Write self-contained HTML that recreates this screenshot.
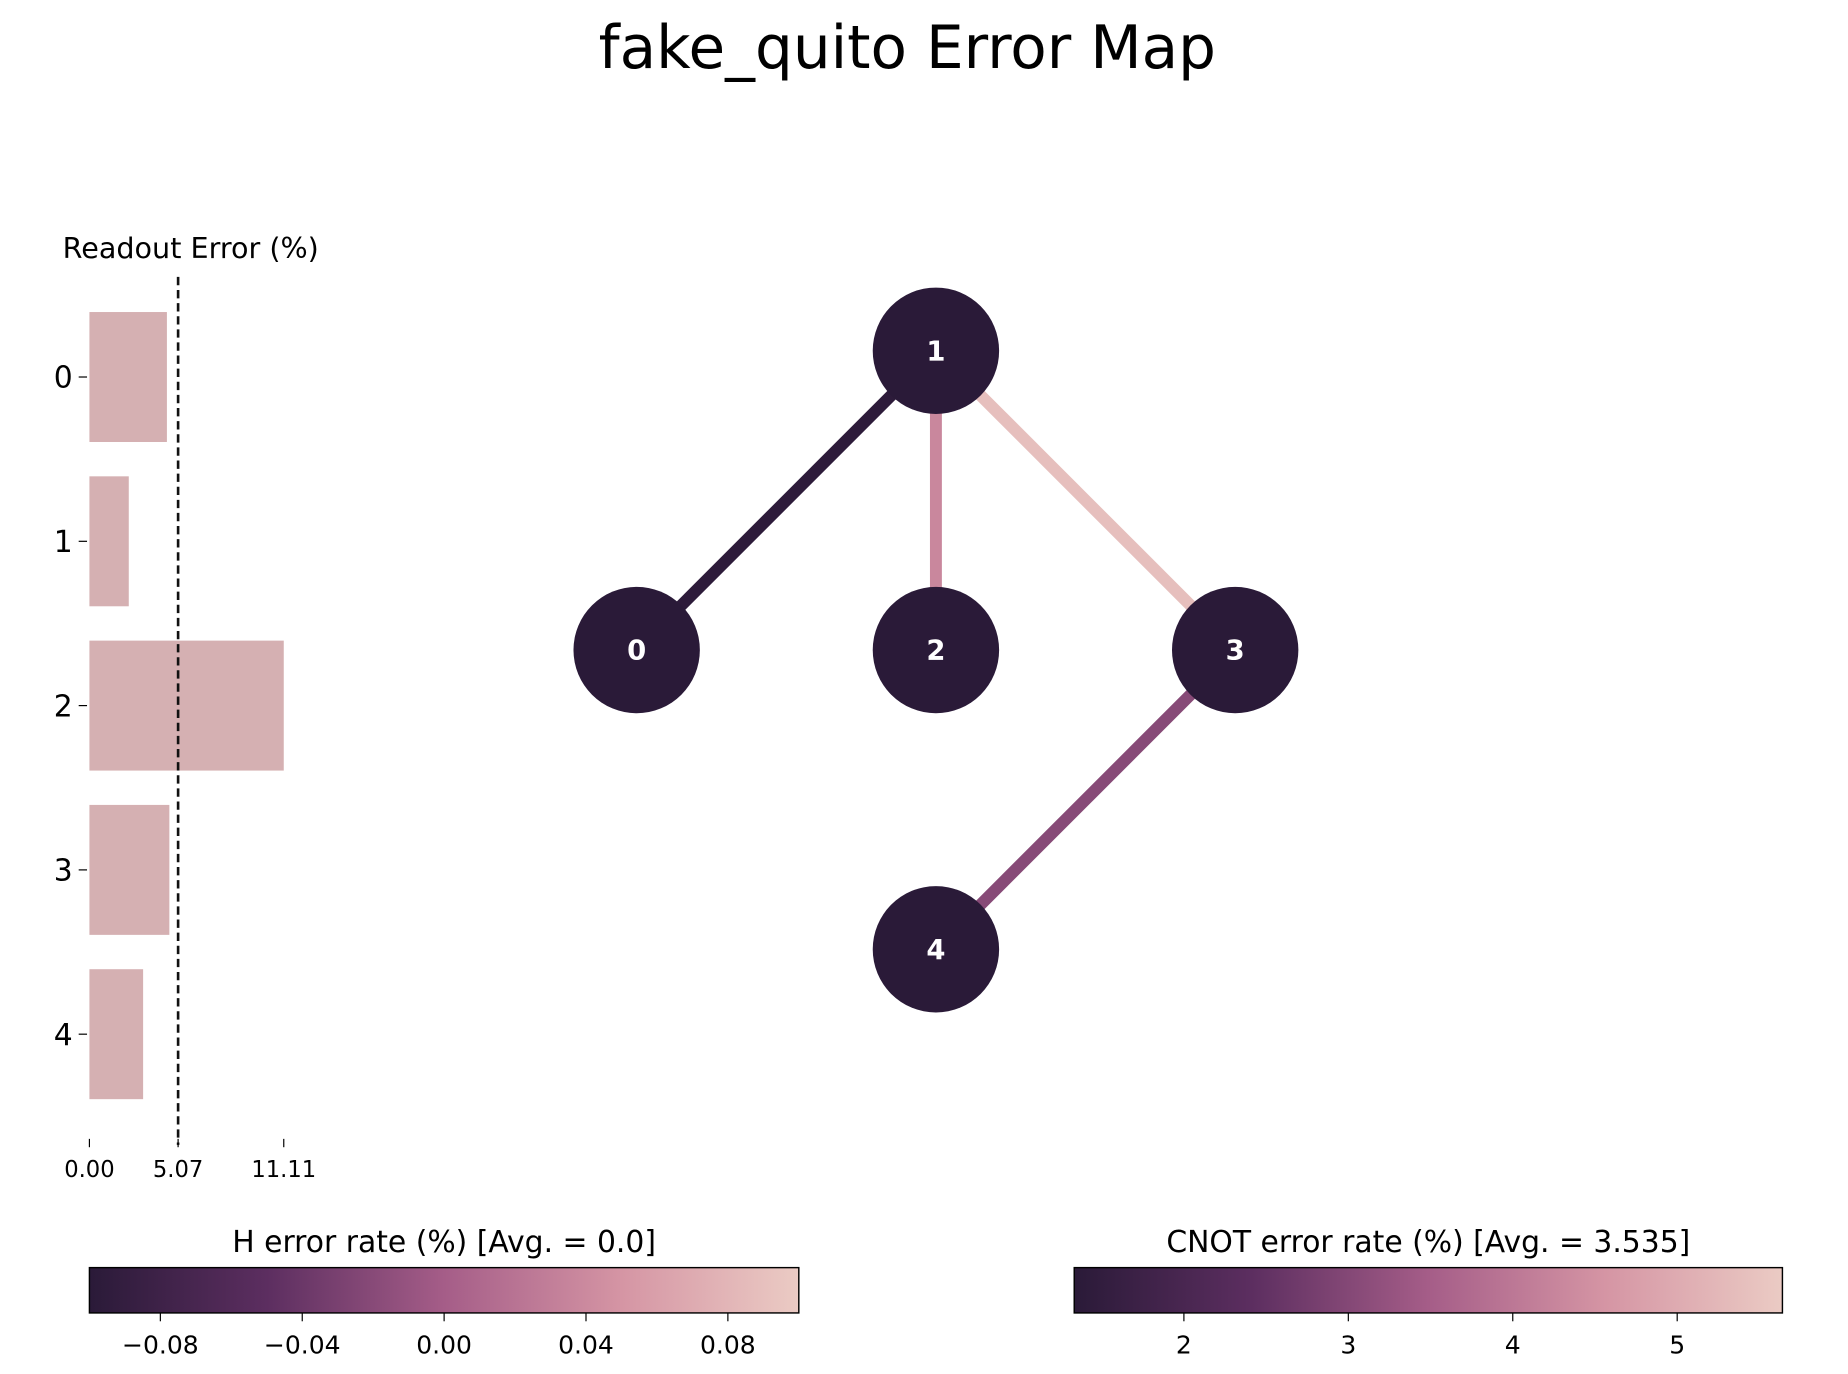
<!DOCTYPE html>
<html><head><meta charset="utf-8">
<style>
html,body{margin:0;padding:0;background:#fff;}
svg{display:block;font-family:"DejaVu Sans","Liberation Sans",sans-serif;}
</style></head>
<body>
<svg id="fig" width="1848" height="1374" viewBox="0 0 1550 1152" xmlns="http://www.w3.org/2000/svg">
<defs>
<linearGradient id="cmap" x1="0" x2="1" y1="0" y2="0">
<stop offset="0" stop-color="#2a1a38"/>
<stop offset="0.25" stop-color="#5c2e60"/>
<stop offset="0.5" stop-color="#a55d88"/>
<stop offset="0.75" stop-color="#d595a4"/>
<stop offset="1" stop-color="#ebcbc4"/>
</linearGradient>
</defs>
<text x="761" y="57" font-size="50" text-anchor="middle" fill="#000">fake_quito Error Map</text>
<g id="readout"></g>
<g id="graph"></g>
<g id="hbar"></g>
<g id="cbar"></g>
</svg>
<script>
const qubits = ["0","1","2","3","4"];
const readoutErrors = [4.43, 2.25, 11.11, 4.57, 3.07];
const readoutTickLabels = ["0.00","5.07","11.11"];
const readoutTickValues = [0, 5.07, 11.11];
const readoutMean = 5.07;
const edgesFrom = [0, 1, 1, 3];
const edgesTo = [1, 2, 3, 4];
const cnotErrors = [1.40, 4.30, 5.40, 3.04];
const hTickValues = [-0.08, -0.04, 0.0, 0.04, 0.08];
const hTickLabels = ["\u22120.08","\u22120.04","0.00","0.04","0.08"];
const cnotTickValues = [2, 3, 4, 5];
const cnotTickLabels = ["2","3","4","5"];
const nodeCol = [0, 1, 1, 2, 1];
const nodeRow = [1, 0, 1, 1, 2];

const NS = "http://www.w3.org/2000/svg";
function mk(parent, tag, attrs, text){
  const e = document.createElementNS(NS, tag);
  for (const k in attrs) e.setAttribute(k, attrs[k]);
  if (text !== undefined) e.textContent = text;
  parent.appendChild(e); return e;
}
const stops = [[0,[42,26,56]],[0.25,[92,46,96]],[0.5,[165,93,136]],[0.75,[213,149,164]],[1,[235,203,196]]];
function cmap(t){
  t = Math.max(0, Math.min(1, t));
  for (let i=1;i<stops.length;i++){
    if (t <= stops[i][0]){
      const a=stops[i-1], b=stops[i], f=(t-a[0])/(b[0]-a[0]);
      const c=a[1].map((v,j)=>Math.round(v+(b[1][j]-v)*f));
      return "rgb("+c.join(",")+")";
    }
  }
  return "rgb(235,203,196)";
}

const ro = document.getElementById("readout");
const rx = v => 75 + v * (163 / 11.11);
const ry = i => 316 + i * 137.8;
const bh = 109;
const tRo = mk(ro, "text", {x:160, y:216, "font-size":"24", "text-anchor":"middle", fill:"#000"}, "Readout Error (%)");


qubits.forEach((q, i) => {
  const r = mk(ro, "rect", {x:rx(0), y:ry(i)-bh/2, width:rx(readoutErrors[i])-rx(0), height:bh, fill:"#d5b0b2"});
  
  
  mk(ro, "line", {x1:66, x2:73, y1:ry(i), y2:ry(i), stroke:"#000", "stroke-width":1});
  const t = mk(ro, "text", {x:61, y:ry(i)+9, "font-size":"25", "text-anchor":"end", fill:"#000"}, q);
  
  
});
const ml = mk(ro, "line", {x1:rx(readoutMean), x2:rx(readoutMean), y1:232, y2:960, stroke:"#111", "stroke-width":2.2, "stroke-dasharray":"7,4"});


readoutTickValues.forEach((v, i) => {
  mk(ro, "line", {x1:rx(v), x2:rx(v), y1:955, y2:962, stroke:"#000", "stroke-width":1});
  const t = mk(ro, "text", {x:rx(v), y:987, "font-size":"19", "text-anchor":"middle", fill:"#000"}, readoutTickLabels[i]);
  
  
});

const g = document.getElementById("graph");
const cLo = 1.333, cHi = 5.64;
const nx = c => 534 + c * 251;
const ny = r => 294 + r * 251;
edgesFrom.forEach((a, i) => {
  const b = edgesTo[i];
  const l = mk(g, "line", {x1:nx(nodeCol[a]), y1:ny(nodeRow[a]), x2:nx(nodeCol[b]), y2:ny(nodeRow[b]), stroke:cmap((cnotErrors[i]-cLo)/(cHi-cLo)), "stroke-width":10});
  
  
});
qubits.forEach((q, i) => {
  const c = mk(g, "circle", {cx:nx(nodeCol[i]), cy:ny(nodeRow[i]), r:53, fill:"#2a1a38"});
  
  
  const t = mk(g, "text", {x:nx(nodeCol[i]), y:ny(nodeRow[i])+8, "font-size":"23", "font-weight":"bold", "text-anchor":"middle", fill:"#fff"}, q);
  
  
});

function colorbar(id, x0, x1, lo, hi, tv, tl, title, nm){
  const p = document.getElementById(id);
  const tt = mk(p, "text", {x:(x0+x1)/2, y:1050, "font-size":"25", "text-anchor":"middle", fill:"#000"}, title);
  
  
  const r = mk(p, "rect", {x:x0, y:1063, width:x1-x0, height:38, fill:"url(#cmap)", stroke:"#000", "stroke-width":1.2});
  
  
  const sx = v => x0 + (v-lo)/(hi-lo)*(x1-x0);
  tv.forEach((v, i) => {
    mk(p, "line", {x1:sx(v), x2:sx(v), y1:1101, y2:1108, stroke:"#000", "stroke-width":1});
    const t = mk(p, "text", {x:sx(v), y:1135, "font-size":"21", "text-anchor":"middle", fill:"#000"}, tl[i]);
    
    
  });
}
colorbar("hbar", 75, 670, -0.1, 0.1, hTickValues, hTickLabels, "H error rate (%) [Avg. = 0.0]", "h-colorbar");
colorbar("cbar", 901, 1495, cLo, cHi, cnotTickValues, cnotTickLabels, "CNOT error rate (%) [Avg. = 3.535]", "cnot-colorbar");
</script>
</body></html>
